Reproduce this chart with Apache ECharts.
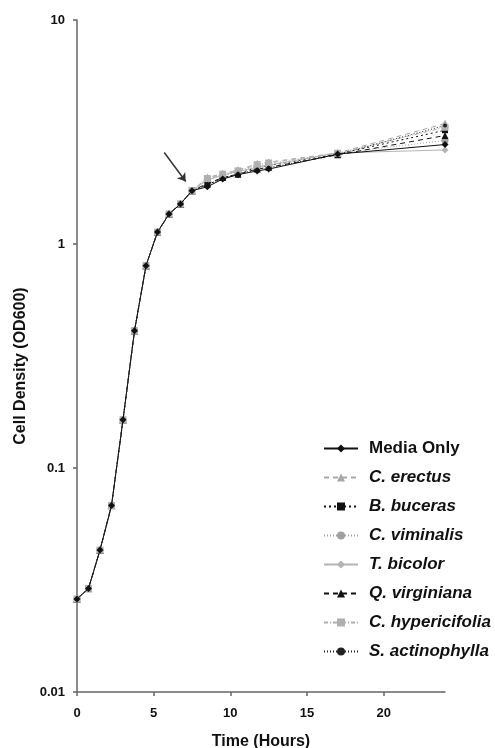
<!DOCTYPE html>
<html>
<head>
<meta charset="utf-8">
<script src="https://cdn.jsdelivr.net/npm/echarts@6/dist/echarts.min.js"></script>
<style>html,body{margin:0;padding:0;background:#fff}#c{width:495px;height:748px}</style>
</head>
<body>
<div id="c"></div>
<script>
const times = [0,0.75,1.5,2.25,3,3.75,4.5,5.25,6,6.75,7.5,8.5,9.5,10.5,11.75,12.5,17,24];
const mediaOnly      = [0.026,0.029,0.043,0.068,0.164,0.41,0.80,1.13,1.36,1.51,1.73,1.80,1.95,2.04,2.12,2.16,2.52,2.78];
const cErectus       = [0.026,0.029,0.043,0.068,0.164,0.41,0.80,1.13,1.36,1.51,1.73,1.98,2.06,2.14,2.28,2.32,2.55,3.45];
const bBuceras       = [0.026,0.029,0.043,0.068,0.164,0.41,0.80,1.13,1.36,1.51,1.73,1.84,1.97,2.06,2.20,2.24,2.52,3.22];
const cViminalis     = [0.026,0.029,0.043,0.068,0.164,0.41,0.80,1.13,1.36,1.51,1.73,1.95,2.02,2.10,2.22,2.26,2.54,2.90];
const tBicolor       = [0.026,0.029,0.043,0.068,0.164,0.41,0.80,1.13,1.36,1.51,1.73,1.93,2.03,2.11,2.20,2.25,2.55,2.63];
const qVirginiana    = [0.026,0.029,0.043,0.068,0.164,0.41,0.80,1.13,1.36,1.51,1.73,1.86,1.98,2.05,2.16,2.20,2.50,3.05];
const cHypericifolia = [0.026,0.029,0.043,0.068,0.164,0.41,0.80,1.13,1.36,1.51,1.73,1.96,2.05,2.12,2.26,2.30,2.54,3.32];
const sActinophylla  = [0.026,0.029,0.043,0.068,0.164,0.41,0.80,1.13,1.36,1.51,1.73,1.83,1.96,2.05,2.15,2.19,2.51,3.38];
const seriesNames = ['Media Only','C. erectus','B. buceras','C. viminalis','T. bicolor','Q. virginiana','C. hypericifolia','S. actinophylla'];
const seriesValues = [mediaOnly,cErectus,bBuceras,cViminalis,tBicolor,qVirginiana,cHypericifolia,sActinophylla];
const xTicks = [0,5,10,15,20];
const yTicks = [0.01,0.1,1,10];
const arrowFrom = [5.69, 2.56];
const arrowTo = [7.09, 1.90];

const styles = [
  {color:'#111', type:'solid',  symbol:'diamond',  size:7},
  {color:'#a8a8a8', type:[5,4], symbol:'triangle', size:8},
  {color:'#111', type:[2,3],    symbol:'rect',     size:6},
  {color:'#a0a0a0', type:[1,2], symbol:'circle',   size:7},
  {color:'#b4b4b4', type:'solid', symbol:'diamond', size:7},
  {color:'#111', type:[5,4],    symbol:'triangle', size:7},
  {color:'#b0b0b0', type:[4,2,1,2], symbol:'rect', size:7},
  {color:'#222', type:[1,2],    symbol:'circle',   size:4}
];

const series = seriesNames.map((name,i)=>{
  const s = {
    name: name,
    type: 'line',
    data: times.map((t,j)=>[t, seriesValues[i][j]]),
    symbol: styles[i].symbol,
    symbolSize: styles[i].size,
    showAllSymbol: true,
    lineStyle: {color: styles[i].color, width: 1, type: styles[i].type},
    itemStyle: {color: styles[i].color},
    z: i===0 ? 10 : 3
  };
  if (i===0) {
    s.markLine = {
      silent: true,
      symbol: ['none','arrow'],
      symbolSize: 8,
      label: {show:false},
      lineStyle: {color:'#333', width:1.5, type:'solid'},
      data: [[{coord: arrowFrom},{coord: arrowTo}]]
    };
  }
  return s;
});

const FONT = 'Liberation Sans, Arial, sans-serif';
const chart = echarts.init(document.getElementById('c'));
chart.setOption({
  animation: false,
  backgroundColor: '#fff',
  textStyle: {fontFamily: FONT},
  grid: {left: 77, right: 50, top: 20, bottom: 56, containLabel: false, outerBoundsMode: 'none'},
  legend: {
    orient: 'vertical',
    left: 323,
    top: 440,
    padding: 0,
    itemWidth: 34,
    itemHeight: 10,
    itemGap: 12,
    data: seriesNames,
    formatter: n => n==='Media Only' ? '{b|'+n+'}' : '{i|'+n+'}',
    textStyle: {
      color:'#111',
      padding: [0,0,0,6],
      rich: {
        b: {fontSize: 17, fontWeight: 'bold', color:'#111', lineHeight: 20, fontFamily: FONT},
        i: {fontSize: 17, fontWeight: 'bold', fontStyle: 'italic', color:'#111', lineHeight: 20, fontFamily: FONT}
      }
    }
  },
  xAxis: {
    type: 'value',
    min: 0, max: 24, interval: 5,
    name: 'Time (Hours)',
    nameLocation: 'middle',
    nameGap: 42,
    nameTextStyle: {fontSize: 16, fontWeight: 'bold', color:'#111', fontFamily: FONT},
    axisLine: {lineStyle: {color:'#666', width:1.5}},
    axisTick: {show: true, length: 4, lineStyle:{color:'#666', width:1.5}},
    axisLabel: {fontSize: 13, fontWeight:'bold', color:'#111', margin: 15, showMaxLabel: false,
      formatter: v => xTicks.indexOf(v) >= 0 ? String(v) : ''},
    splitLine: {show:false}
  },
  yAxis: {
    type: 'log',
    logBase: 10,
    min: 0.01, max: 10,
    name: 'Cell Density (OD600)',
    nameLocation: 'middle',
    nameGap: 48,
    nameTextStyle: {fontSize: 16, fontWeight: 'bold', color:'#111', fontFamily: FONT, padding: [0,20,0,0]},
    axisLine: {show:true, lineStyle: {color:'#666', width:1.5}},
    axisTick: {show: true, length: 4, lineStyle:{color:'#666', width:1.5}},
    axisLabel: {fontSize: 13, fontWeight:'bold', color:'#111', margin: 12,
      formatter: v => { const m = yTicks.find(t => Math.abs(t - v)/t < 1e-6); return m !== undefined ? String(m) : ''; }},
    splitLine: {show:false}
  },
  series: series
});
</script>
</body>
</html>
